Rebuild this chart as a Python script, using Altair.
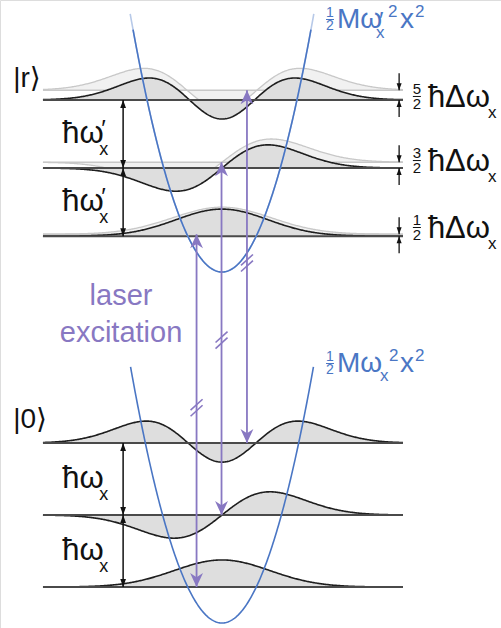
import numpy as np
import pandas as pd
import altair as alt
from math import factorial, pi, sqrt
from numpy.polynomial.hermite import hermval

# Diagram frame: position xi in wavefunction length units, energy E in units of hbar*omega_x
X_DOMAIN = [-4.625, 5.8125]
Y_DOMAIN = [-0.0694, 8.6528]

quantum_numbers = [0, 1, 2]
ground_trap_min = 0.0
upper_trap_min = 4.9          # reference energy of the |r> manifold
omega_ratio = 0.946           # omega'_x / omega_x
trap_curvature = 0.98         # potential energy per xi^2
ground_trap_top = 3.556
upper_parabola_min = 4.875
upper_trap_top = 8.24
upper_trap_faint_top = 8.46

level_span = [-3.73, 3.77]
psi_scale = 0.5
ground_width = 1.0
upper_width = 0.96
ghost_width = 1.03

laser_xi = [-0.53, -0.01, 0.52]
laser_break_E = [2.99, 3.93, 5.0]
spacing_arrow_xi = -2.06
shift_arrow_xi = 3.69
shift_label_E = [5.5, 6.43, 7.32]
shift_numerators = ["1", "3", "5"]

BLUE = "#4a76c4"
PURPLE = "#8878c2"
FONT = "Liberation Sans, DejaVu Sans, sans-serif"

ground_E = [ground_trap_min + n + 0.5 for n in quantum_numbers]
upper_E = [upper_trap_min + (n + 0.5) * omega_ratio for n in quantum_numbers]
ghost_E = [upper_trap_min + n + 0.5 for n in quantum_numbers]


def psi(n, u):
    c = np.zeros(n + 1)
    c[n] = 1.0
    norm = 1.0 / sqrt(2 ** n * factorial(n) * sqrt(pi))
    return norm * hermval(u, c) * np.exp(-u ** 2 / 2)


def wave_table(levels, width, tag):
    xs = np.linspace(level_span[0], level_span[1], 400)
    rows = []
    for n, E in zip(quantum_numbers, levels):
        vals = E + psi_scale * psi(n, xs / width)
        for x, v in zip(xs, vals):
            rows.append({"xi": x, "psi": v, "base": E, "id": f"{tag}{n}"})
    return pd.DataFrame(rows)


def parabola(E0, top, tag):
    half = sqrt((top - E0) / trap_curvature)
    xs = np.linspace(-half, half, 200)
    return pd.DataFrame({"xi": xs, "E": E0 + trap_curvature * xs ** 2, "id": tag})


def xq(f):
    return alt.X(f, type="quantitative", scale=alt.Scale(domain=X_DOMAIN, nice=False, zero=False), axis=None)


def yq(f):
    return alt.Y(f, type="quantitative", scale=alt.Scale(domain=Y_DOMAIN, nice=False, zero=False), axis=None)


ghost_waves = wave_table(ghost_E, ghost_width, "g")
upper_waves = wave_table(upper_E, upper_width, "u")
ground_waves = wave_table(ground_E, ground_width, "b")
main_waves = pd.concat([upper_waves, ground_waves])

layers = []

# faint reference (unshifted) states of the |r> manifold
layers.append(alt.Chart(ghost_waves).mark_area(color="#f1f1f1").encode(
    x=xq("xi"), y=yq("psi"), y2=alt.Y2("base"), detail="id:N"))
layers.append(alt.Chart(ghost_waves).mark_line(color="#c8c8c8", strokeWidth=1.3).encode(
    x=xq("xi"), y=yq("psi"), detail="id:N"))
ghost_lines = pd.DataFrame({"x0": level_span[0], "x1": level_span[1], "E": ghost_E})
layers.append(alt.Chart(ghost_lines).mark_rule(color="#c8c8c8", strokeWidth=1.6).encode(
    x=xq("x0"), x2=alt.X2("x1"), y=yq("E")))

# wavefunctions
layers.append(alt.Chart(main_waves).mark_area(color="#dedede").encode(
    x=xq("xi"), y=yq("psi"), y2=alt.Y2("base"), detail="id:N"))
layers.append(alt.Chart(main_waves).mark_line(color="#1e1e1e", strokeWidth=1.6).encode(
    x=xq("xi"), y=yq("psi"), detail="id:N"))
level_lines = pd.DataFrame({"x0": level_span[0], "x1": level_span[1], "E": upper_E + ground_E})
layers.append(alt.Chart(level_lines).mark_rule(color="#4a4a4a", strokeWidth=2).encode(
    x=xq("x0"), x2=alt.X2("x1"), y=yq("E")))

# trap potentials
faint_trap = parabola(upper_parabola_min, upper_trap_faint_top, "rf")
traps = pd.concat([parabola(upper_parabola_min, upper_trap_top, "r"),
                   parabola(ground_trap_min, ground_trap_top, "g")])
layers.append(alt.Chart(faint_trap).mark_line(color="#b7c9e8", strokeWidth=1.6).encode(
    x=xq("xi"), y=yq("E"), detail="id:N"))
layers.append(alt.Chart(traps).mark_line(color=BLUE, strokeWidth=1.6).encode(
    x=xq("xi"), y=yq("E"), detail="id:N"))

HEAD_UP = "M0,0L-0.36,1L0.36,1Z"
HEAD_DOWN = "M0,0L-0.36,-1L0.36,-1Z"
LASER_UP = "M0,0L-0.46,1L0,0.7L0.46,1Z"
LASER_DOWN = "M0,0L-0.46,-1L0,-0.7L0.46,-1Z"


def heads(df, field, shape, size, color):
    return alt.Chart(df).mark_point(shape=shape, size=size, filled=True, color=color,
                                    opacity=1, strokeWidth=0).encode(x=xq("xi"), y=yq(field))


# level spacing arrows
spacing = []
for levels in (upper_E, ground_E):
    for lo, hi in zip(levels[:-1], levels[1:]):
        spacing.append({"xi": spacing_arrow_xi, "lo": lo, "hi": hi})
spacing = pd.DataFrame(spacing)
layers.append(alt.Chart(spacing).mark_rule(color="#111", strokeWidth=1.5).encode(
    x=xq("xi"), y=yq("lo"), y2=alt.Y2("hi")))
layers.append(heads(spacing, "hi", HEAD_UP, 256, "#111"))
layers.append(heads(spacing, "lo", HEAD_DOWN, 256, "#111"))

# level shift arrows
shift_len = 0.236
shift = pd.DataFrame({"xi": shift_arrow_xi, "ghost": ghost_E, "level": upper_E})
shift["above"] = shift["ghost"] + shift_len
shift["below"] = shift["level"] - shift_len
layers.append(alt.Chart(shift).mark_rule(color="#111", strokeWidth=1.3).encode(
    x=xq("xi"), y=yq("above"), y2=alt.Y2("ghost")))
layers.append(alt.Chart(shift).mark_rule(color="#111", strokeWidth=1.3).encode(
    x=xq("xi"), y=yq("below"), y2=alt.Y2("level")))
layers.append(heads(shift, "ghost", HEAD_DOWN, 196, "#111"))
layers.append(heads(shift, "level", HEAD_UP, 196, "#111"))

# laser transitions
laser = pd.DataFrame({"xi": laser_xi, "lo": ground_E, "hi": ghost_E})
layers.append(alt.Chart(laser).mark_rule(color=PURPLE, strokeWidth=1.8).encode(
    x=xq("xi"), y=yq("lo"), y2=alt.Y2("hi")))
layers.append(heads(laser, "hi", LASER_UP, 784, PURPLE))
layers.append(heads(laser, "lo", LASER_DOWN, 784, PURPLE))

breaks = []
for x, E in zip(laser_xi, laser_break_E):
    for off in (-0.042, 0.042):
        breaks.append({"x0": x - 0.125, "x1": x + 0.125, "y0": E - 0.076 + off, "y1": E + 0.076 + off})
breaks = pd.DataFrame(breaks)
layers.append(alt.Chart(breaks).mark_rule(color=PURPLE, strokeWidth=1.6).encode(
    x=xq("x0"), x2=alt.X2("x1"), y=yq("y0"), y2=alt.Y2("y1")))


def text(xi, E, s, size, color="#111", dx=0, dy=0, align="left", baseline="alphabetic"):
    df = pd.DataFrame({"xi": [xi], "E": [E], "t": [s]})
    return alt.Chart(df).mark_text(font=FONT, fontSize=size, color=color, dx=dx, dy=dy,
                                   align=align, baseline=baseline).encode(
        x=xq("xi"), y=yq("E"), text="t:N")


def bar(xi, E, color, dx, dy, length):
    df = pd.DataFrame({"xi": [xi], "E": [E]})
    return alt.Chart(df).mark_tick(color=color, thickness=1, size=length, orient="horizontal",
                                   xOffset=dx, yOffset=dy, opacity=1).encode(x=xq("xi"), y=yq("E"))


# state labels
layers.append(text(-4.35, upper_E[2], "|r⟩", 28, dy=-13))
layers.append(text(-4.35, ground_E[2], "|0⟩", 28, dy=-15))

# spacing labels
label_xi = -3.33
for levels, primed in ((upper_E, True), (ground_E, False)):
    for lo, hi in zip(levels[:-1], levels[1:]):
        mid = (lo + hi) / 2
        layers.append(text(label_xi, mid, "ħω", 31, dy=9))
        layers.append(text(label_xi, mid, "x", 18, dx=37, dy=21))
        if primed:
            layers.append(text(label_xi, mid, "′", 24, dx=39, dy=3))

# shift labels on the right
frac_xi = 4.06
for E, num in zip(shift_label_E, shift_numerators):
    layers.append(text(frac_xi, E, num, 15, align="center", baseline="middle", dy=-7))
    layers.append(text(frac_xi, E, "2", 15, align="center", baseline="middle", dy=8))
    layers.append(bar(frac_xi, E, "#111", 0, 0.5, 8))
    layers.append(text(frac_xi, E, "ħΔω", 31, dx=11, dy=11))
    layers.append(text(frac_xi, E, "x", 17, dx=71, dy=22))

# laser label
layers.append(text(-2.104, 4.417, "laser", 29, color=PURPLE, align="center"))
layers.append(text(-2.104, 3.903, "excitation", 29, color=PURPLE, align="center"))

# potential labels
for E, primed in ((8.264, True), (3.486, False)):
    layers.append(text(2.146, E, "1", 14, color=BLUE, align="center", baseline="middle", dx=5, dy=-15))
    layers.append(text(2.146, E, "2", 14, color=BLUE, align="center", baseline="middle", dx=5, dy=-2))
    layers.append(bar(2.146, E, BLUE, 5, -8.5, 8))
    layers.append(text(2.146, E, "Mω", 28, color=BLUE, dx=12))
    if primed:
        layers.append(text(2.146, E, "x", 17, color=BLUE, dx=51, dy=10))
        layers.append(text(2.146, E, "′", 24, color=BLUE, dx=54, dy=1))
        layers.append(text(2.146, E, "2", 17, color=BLUE, dx=63, dy=-11))
        layers.append(text(2.146, E, "x", 28, color=BLUE, dx=75))
        layers.append(text(2.146, E, "2", 17, color=BLUE, dx=90, dy=-11))
    else:
        layers.append(text(2.146, E, "x", 17, color=BLUE, dx=55, dy=9))
        layers.append(text(2.146, E, "2", 17, color=BLUE, dx=64, dy=-11))
        layers.append(text(2.146, E, "x", 28, color=BLUE, dx=75))
        layers.append(text(2.146, E, "2", 17, color=BLUE, dx=90, dy=-11))

chart = alt.layer(*layers).properties(
    width=501, height=628, autosize="none", padding=0
).configure_view(stroke=None).configure(background="white")

chart.save("out.html", embed_options={"renderer": "svg", "actions": False})
